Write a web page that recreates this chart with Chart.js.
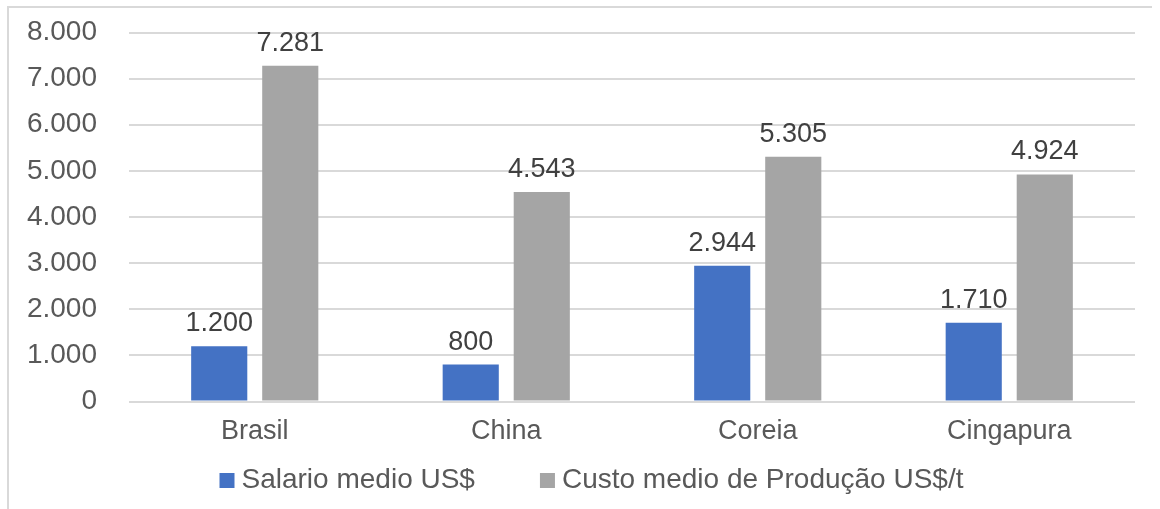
<!DOCTYPE html>
<html><head><meta charset="utf-8">
<script src="https://cdn.jsdelivr.net/npm/chart.js@4.4.1/dist/chart.umd.min.js"></script>
<style>html,body{margin:0;padding:0;background:#fff}#wrap{width:1160px;height:509px;position:relative}</style>
</head><body><div id="wrap"><canvas id="c"></canvas></div>
<script>
const categories = ["Brasil", "China", "Coreia", "Cingapura"];
const seriesNames = ["Salario medio US$", "Custo medio de Produção US$/t"];
const salario = [1200, 800, 2944, 1710];
const custo = [7281, 4543, 5305, 4924];
const yTicks = [0, 1000, 2000, 3000, 4000, 5000, 6000, 7000, 8000];

function fmt(v){ return String(Math.round(v)).replace(/\B(?=(\d{3})+(?!\d))/g, "."); }

const FONT = "'Liberation Sans', Arial, sans-serif";
const LEGEND_H = 40;

const frame = {
  id: 'frame',
  beforeDraw(chart){
    const c = chart.ctx;
    c.save();
    c.strokeStyle = '#d9d9d9';
    c.lineWidth = 2;
    c.beginPath();
    c.moveTo(8, 509); c.lineTo(8, 7); c.lineTo(1152, 7);
    c.stroke();
    c.restore();
  }
};

const labels = {
  id: 'vlabels',
  afterDatasetsDraw(chart){
    const c = chart.ctx;
    c.save();
    c.font = "27px " + FONT;
    c.fillStyle = '#404040';
    c.textAlign = 'center';
    c.textBaseline = 'alphabetic';
    chart.data.datasets.forEach((ds, i) => {
      chart.getDatasetMeta(i).data.forEach((el, j) => {
        c.fillText(fmt(ds.data[j]), el.x, el.y - 15);
      });
    });
    c.restore();
  }
};

const legendFix = {
  id: 'legendFix',
  beforeInit(chart){
    const lg = chart.legend;
    if (!lg) return;
    const orig = lg.fit;
    lg.fit = function(){ orig.call(this); this.height = LEGEND_H; };
  },
  afterLayout(chart){
    const lg = chart.legend;
    const dx = 23, dy = -65.5;
    lg.left += dx; lg.right += dx;
    lg.top += dy; lg.height -= dy;
  }
};

new Chart(document.getElementById('c'), {
  type: 'bar',
  data: {
    labels: categories,
    datasets: [
      { label: seriesNames[0], data: salario, backgroundColor: '#4472c4', categoryPercentage: 0.565, barPercentage: 0.79 },
      { label: seriesNames[1], data: custo, backgroundColor: '#a5a5a5', categoryPercentage: 0.565, barPercentage: 0.79 }
    ]
  },
  options: {
    responsive: true,
    maintainAspectRatio: false,
    animation: false,
    layout: { padding: { left: 9, right: 25, top: 32.5, bottom: 9 } },
    plugins: {
      tooltip: { enabled: false },
      legend: {
        position: 'bottom',
        labels: {
          usePointStyle: true, pointStyle: 'rect',
          boxWidth: 1, boxHeight: 15, padding: 72,
          color: '#595959',
          font: { family: FONT, size: 28 }
        }
      }
    },
    scales: {
      x: {
        grid: { display: false, drawTicks: false },
        border: { display: false },
        ticks: { color: '#595959', font: { family: FONT, size: 27 }, padding: 14 },
        afterFit(s){ s.height = 58.5; }
      },
      y: {
        min: 0, max: 8000,
        afterBuildTicks(s){ s.ticks = yTicks.map(v => ({ value: v })); },
        grid: { color: '#d9d9d9', lineWidth: 2, drawTicks: true, tickLength: 32, tickColor: 'rgba(0,0,0,0)' },
        border: { display: false },
        ticks: { color: '#595959', font: { family: FONT, size: 28 }, padding: 0, callback: v => fmt(v) },
        afterFit(s){ s.width = 120; }
      }
    }
  },
  plugins: [frame, labels, legendFix]
});
</script></body></html>
